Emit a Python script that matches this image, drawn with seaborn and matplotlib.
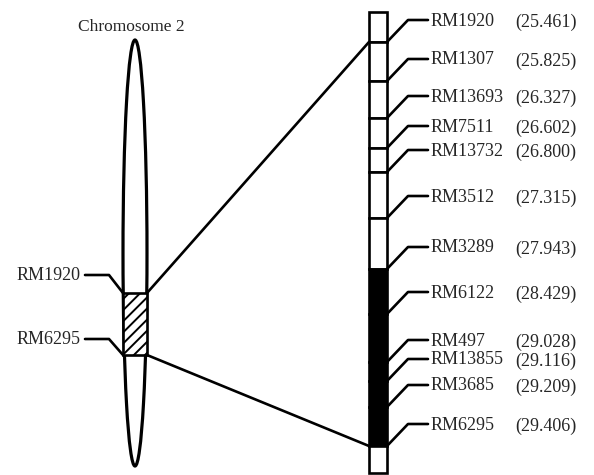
import numpy as np
import pandas as pd
import matplotlib
matplotlib.use("Agg")
import matplotlib.pyplot as plt
from matplotlib.patches import Ellipse, Rectangle
import seaborn as sns

# marker data (position in cM)
markers = ["RM1920", "RM1307", "RM13693", "RM7511", "RM13732", "RM3512",
           "RM3289", "RM6122", "RM497", "RM13855", "RM3685", "RM6295"]
positions_cm = [25.461, 25.825, 26.327, 26.602, 26.800, 27.315,
                27.943, 28.429, 29.028, 29.116, 29.209, 29.406]
qtl_flanks = ["RM3289", "RM6295"]
chrom_flanks = ["RM1920", "RM6295"]
chrom_name = "Chromosome 2"

# schematic layout (pixel coordinates of the drawing)
bar_y = [42, 81, 118, 148, 172, 218, 269, 314, 362, 381, 407, 446]
bar_top, bar_bottom = 12, 473
bar_x0, bar_x1 = 369, 387
chrom_cx, chrom_cy, chrom_w, chrom_h = 135, 253, 24, 426
chrom_seg = [293, 355]
chrom_label_y = [275, 339]

sns.set_style("white")
plt.rcParams["font.family"] = ["Liberation Serif", "DejaVu Serif"]
plt.rcParams["hatch.linewidth"] = 1.4

LW = 1.9

fig = plt.figure(figsize=(5.94, 4.75), dpi=100)
ax = fig.add_axes([0, 0, 1, 1])

# linkage map bar
edges = [bar_top] + bar_y + [bar_bottom]
y_lo = bar_y[markers.index(qtl_flanks[0])]
y_hi = bar_y[markers.index(qtl_flanks[1])]
for a, b in zip(edges[:-1], edges[1:]):
    fill = "black" if (a >= y_lo and b <= y_hi) else "white"
    ax.bar((bar_x0 + bar_x1) / 2, b - a, bottom=a, width=bar_x1 - bar_x0,
           color=fill, edgecolor="black", linewidth=LW, zorder=2)

# connectors from bar to labels
rows = []
for m, y in zip(markers, bar_y):
    ly = y - 22
    for x, yy in [(bar_x1, y), (408, ly), (428, ly)]:
        rows.append({"marker": m, "x": x, "y": yy})
conn = pd.DataFrame(rows)
sns.lineplot(data=conn, x="x", y="y", units="marker", estimator=None,
             sort=False, color="black", linewidth=LW, ax=ax, legend=False)
ax.set_xlim(0, 594)
ax.set_ylim(475, 0)
ax.axis("off")

for m, cm, y in zip(markers, positions_cm, bar_y):
    ly = y - 22
    ax.text(431, ly + 1, m, fontsize=13, va="center", ha="left")
    ax.text(515, ly + 2, f"({cm:.3f})", fontsize=13, va="center", ha="left")

# chromosome
ax.add_patch(Ellipse((chrom_cx, chrom_cy), chrom_w, chrom_h, fill=False,
                     edgecolor="black", linewidth=2.3, zorder=3))
ax.add_patch(Rectangle((chrom_cx - 12, chrom_seg[0]), 24, chrom_seg[1] - chrom_seg[0],
                       facecolor="white", edgecolor="black", hatch="///",
                       linewidth=LW, zorder=4))
ax.text(chrom_cx - 4, 27, chrom_name, fontsize=12.5, ha="center", va="center")

for name, sy, ly in zip(chrom_flanks, chrom_seg, chrom_label_y):
    ax.plot([85, 109, chrom_cx - 12], [ly, ly, sy], color="black", linewidth=LW)
    ax.text(81, ly, name, fontsize=13, ha="right", va="center")

# zoom lines to the map
ax.plot([chrom_cx + 12, bar_x0], [chrom_seg[0], bar_y[0]], color="black", linewidth=LW)
ax.plot([chrom_cx + 12, bar_x0], [chrom_seg[1], bar_y[-1]], color="black", linewidth=LW)

fig.savefig("out.png", dpi=100)
